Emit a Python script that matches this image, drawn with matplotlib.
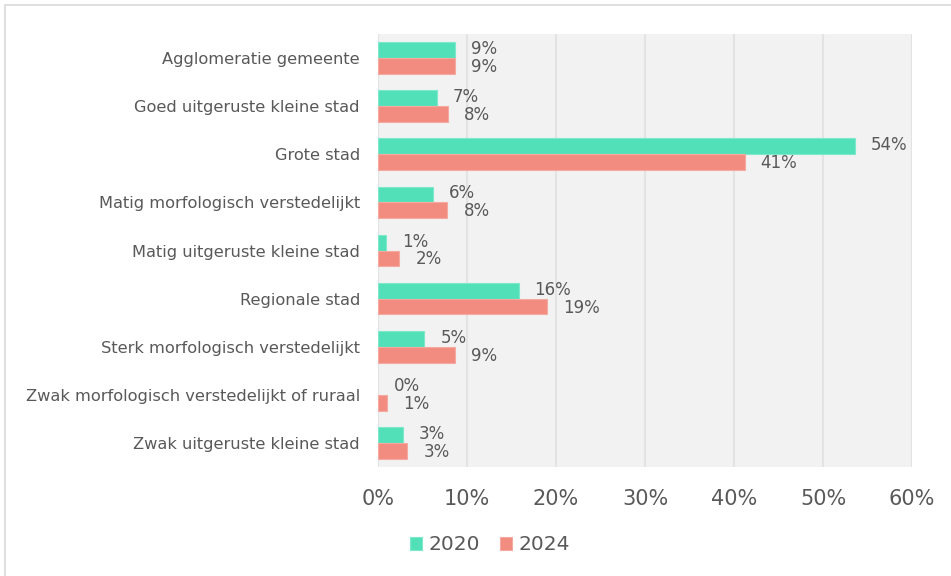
import matplotlib
matplotlib.use('Agg')
import matplotlib.pyplot as plt
import numpy as np
from matplotlib.patches import Rectangle
from matplotlib.ticker import FuncFormatter

categories = ['Agglomeratie gemeente', 'Goed uitgeruste kleine stad', 'Grote stad',
              'Matig morfologisch verstedelijkt', 'Matig uitgeruste kleine stad',
              'Regionale stad', 'Sterk morfologisch verstedelijkt',
              'Zwak morfologisch verstedelijkt of ruraal', 'Zwak uitgeruste kleine stad']
values_2020 = [8.6, 6.6, 53.6, 6.2, 0.9, 15.8, 5.2, 0.0, 2.8]
values_2024 = [8.6, 7.9, 41.2, 7.8, 2.4, 19.0, 8.7, 1.0, 3.3]
labels_2020 = ['9%', '7%', '54%', '6%', '1%', '16%', '5%', '0%', '3%']
labels_2024 = ['9%', '8%', '41%', '8%', '2%', '19%', '9%', '1%', '3%']

c2020 = '#52E0B9'
c2024 = '#F28C80'
txt = '#595959'

fig = plt.figure(figsize=(9.51, 5.76), dpi=100)
ax = fig.add_axes([378 / 951, 1 - 467 / 576, 534 / 951, 433 / 576])
fig.patches.append(Rectangle((5 / 951, -0.01), 1.0, 1 - 5 / 576 + 0.01, transform=fig.transFigure,
                             fill=False, edgecolor='#D9D9D9', linewidth=1.2))

y = np.arange(len(categories))
h = 0.33
edge_2020 = ['#7EE8CB' if v > 0 else 'none' for v in values_2020]
ax.barh(y - h / 2, values_2020, height=h, color=c2020, edgecolor=edge_2020, linewidth=0.8, label='2020', zorder=3)
ax.barh(y + h / 2, values_2024, height=h, color=c2024, edgecolor='#F5AAA1', linewidth=0.8, label='2024', zorder=3)

# data labels, nudged apart a little so the pairs do not collide
for yi, v, lab in zip(y, values_2020, labels_2020):
    ax.annotate(lab, (v, yi - h / 2), xytext=(16, 1), textcoords='offset pixels',
                va='center', ha='left', fontsize=12, color=txt)
for yi, v, lab in zip(y, values_2024, labels_2024):
    ax.annotate(lab, (v, yi + h / 2), xytext=(16, -1), textcoords='offset pixels',
                va='center', ha='left', fontsize=12, color=txt)

ax.set_xlim(0, 60)
ax.set_ylim(len(categories) - 0.5, -0.5)
ax.set_yticks(y)
ax.set_yticklabels(categories, fontsize=11.7, color=txt)
ax.set_xticks(np.arange(0, 61, 10))
ax.xaxis.set_major_formatter(FuncFormatter(lambda v, p: f'{v:.0f}%'))
ax.tick_params(axis='x', labelsize=15, colors=txt, length=0, pad=16)
ax.tick_params(axis='y', length=0, pad=13)
ax.set_facecolor('#F2F2F2')
ax.grid(axis='x', color='#E3E3E3', linewidth=1.5, zorder=0)
ax.set_axisbelow(True)
for s in ax.spines.values():
    s.set_visible(False)

leg = fig.legend(loc='center', bbox_to_anchor=(490 / 951, 1 - 545 / 576), ncol=2, frameon=False,
                 fontsize=14.5, handlelength=0.6, handleheight=0.6, handletextpad=0.3, columnspacing=1.0)
for t in leg.get_texts():
    t.set_color(txt)

fig.savefig('out.png', dpi=100)
